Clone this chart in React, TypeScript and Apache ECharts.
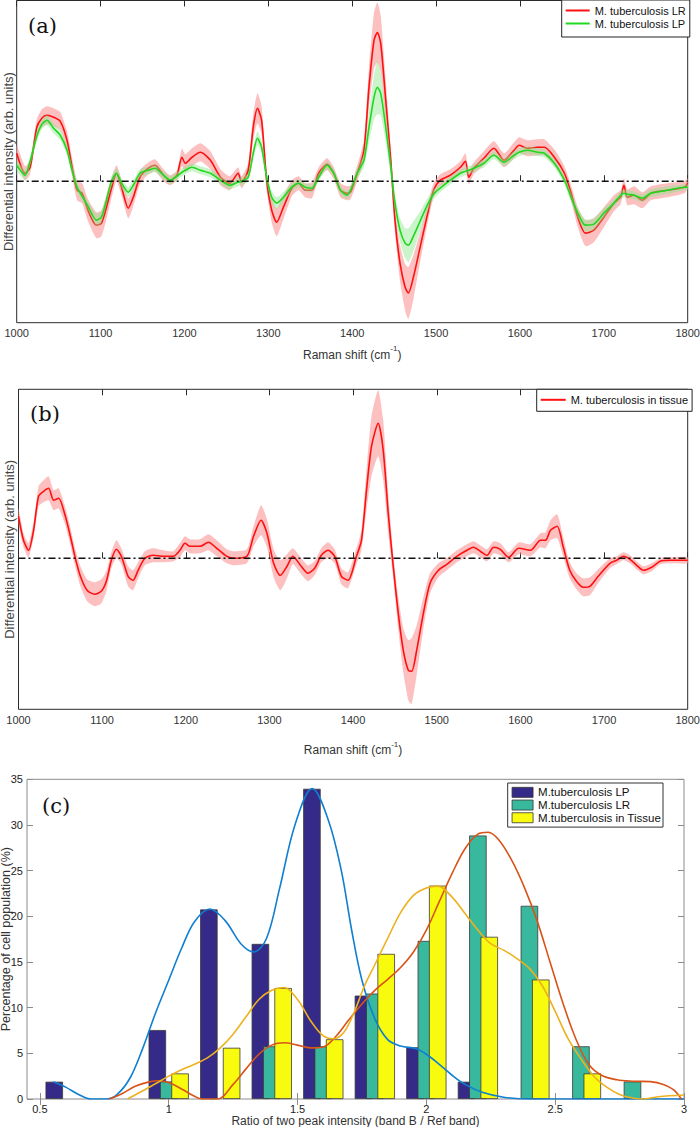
import React, { useEffect, useRef } from 'react';
import * as echarts from 'echarts';

// ---------- Panel (a): differential Raman spectra ----------
const shiftA = [1000,1010,1016,1024,1030,1036,1044,1052,1060,1066,1072,1078,1085,1095,1101,1107,1113,1119,1125,1133,1139,1147,1157,1165,1175,1183,1191,1197,1201,1209,1219,1231,1243,1254,1264,1268,1276,1282,1287,1292,1298,1304,1310,1318,1328,1336,1344,1352,1360,1370,1378,1386,1394,1398,1406,1414,1420,1426,1430,1434,1440,1446,1451,1457,1463,1467,1473,1481,1489,1497,1505,1517,1529,1535,1539,1545,1557,1569,1581,1593,1599,1609,1621,1629,1641,1653,1661,1669,1678,1688,1700,1712,1720,1724,1728,1736,1746,1756,1776,1796,1800];
const lrMean = [0.28,0.08,0.14,0.54,0.63,0.66,0.64,0.60,0.41,0.14,-0.09,-0.12,-0.29,-0.44,-0.42,-0.26,-0.07,0.08,-0.06,-0.27,-0.16,0.04,0.13,0.16,0.06,0.01,0.06,0.24,0.18,0.24,0.29,0.21,0.04,-0.02,0.08,-0.01,0.11,0.54,0.73,0.61,0.01,-0.29,-0.41,-0.26,-0.07,-0.02,-0.09,-0.09,0.08,0.17,0.08,-0.09,-0.12,-0.11,0.08,0.31,0.94,1.41,1.49,1.38,0.81,0.21,-0.39,-0.82,-1.06,-1.12,-0.96,-0.66,-0.36,-0.09,0.01,0.06,0.14,0.20,0.04,0.13,0.23,0.33,0.21,0.31,0.36,0.33,0.34,0.34,0.24,0.08,-0.12,-0.36,-0.52,-0.49,-0.36,-0.22,-0.16,-0.04,-0.16,-0.14,-0.19,-0.12,-0.09,-0.06,-0.02];
const lrSpread = [.08,.07,.07,.08,.09,.09,.09,.09,.09,.09,.1,.1,.11,.13,.13,.12,.1,.08,.08,.1,.09,.07,.06,.06,.06,.05,.05,.09,.09,.09,.09,.09,.08,.07,.06,.06,.07,.13,.15,.14,.1,.12,.14,.12,.08,.07,.07,.08,.06,.06,.06,.07,.07,.07,.08,.1,.2,.28,.3,.28,.2,.12,.12,.18,.23,.26,.22,.15,.1,.07,.06,.06,.06,.08,.07,.06,.07,.07,.07,.08,.08,.08,.08,.08,.08,.07,.08,.1,.13,.12,.1,.08,.07,.07,.08,.09,.08,.07,.07,.06,.05];
const lpMean = [0.16,0.06,0.20,0.45,0.57,0.61,0.53,0.46,0.31,0.11,-0.06,-0.15,-0.25,-0.39,-0.36,-0.19,0.0,0.08,-0.02,-0.11,-0.04,0.08,0.11,0.13,0.06,0.01,0.05,0.09,0.11,0.14,0.11,0.08,0.01,-0.04,-0.01,0.0,0.04,0.28,0.43,0.34,0.04,-0.16,-0.22,-0.16,-0.06,-0.02,-0.06,-0.07,0.04,0.16,0.08,-0.09,-0.14,-0.09,0.08,0.21,0.54,0.84,0.94,0.88,0.54,0.14,-0.22,-0.49,-0.62,-0.64,-0.55,-0.40,-0.25,-0.13,-0.07,0.01,0.08,0.10,0.11,0.13,0.18,0.26,0.19,0.26,0.29,0.31,0.29,0.28,0.18,0.01,-0.16,-0.32,-0.44,-0.43,-0.32,-0.22,-0.14,-0.12,-0.13,-0.14,-0.17,-0.12,-0.09,-0.06,-0.06];
const lpSpread = [.05,.05,.05,.05,.05,.05,.05,.05,.05,.05,.05,.05,.05,.06,.06,.05,.05,.05,.05,.05,.05,.04,.04,.04,.04,.04,.04,.04,.04,.04,.04,.04,.04,.04,.04,.04,.04,.06,.07,.06,.05,.06,.06,.05,.04,.04,.04,.04,.04,.04,.04,.04,.04,.04,.05,.07,.15,.22,.27,.22,.15,.08,.08,.12,.15,.17,.15,.1,.07,.05,.04,.04,.04,.04,.04,.04,.04,.04,.04,.04,.04,.04,.04,.04,.04,.04,.05,.05,.06,.06,.05,.04,.04,.04,.04,.04,.04,.04,.04,.03,.03];

// ---------- Panel (b): M. tuberculosis in tissue ----------
const shiftB = [1000,1006,1012,1018,1024,1030,1036,1042,1048,1056,1062,1068,1074,1082,1091,1099,1105,1111,1117,1123,1131,1137,1143,1151,1161,1173,1185,1193,1199,1205,1217,1227,1237,1249,1257,1273,1281,1290,1297,1305,1313,1321,1328,1338,1346,1354,1362,1370,1378,1386,1394,1404,1410,1416,1422,1430,1436,1442,1448,1454,1460,1466,1470,1476,1484,1492,1502,1512,1524,1534,1544,1552,1560,1568,1576,1586,1598,1612,1624,1630,1636,1644,1651,1659,1667,1675,1683,1693,1707,1715,1723,1731,1739,1747,1757,1767,1779,1800];
const tissueMean = [0.42,0.18,0.08,0.28,0.62,0.67,0.70,0.58,0.60,0.42,0.22,0.0,-0.18,-0.32,-0.36,-0.33,-0.23,-0.02,0.09,0.02,-0.18,-0.22,-0.12,0.0,0.03,0.02,0.02,0.08,0.15,0.12,0.12,0.16,0.10,0.02,0.0,0.02,0.22,0.38,0.25,-0.05,-0.17,-0.08,0.02,-0.08,-0.15,-0.10,0.03,0.08,0.02,-0.18,-0.22,0.02,0.18,0.68,1.12,1.35,1.08,0.45,-0.08,-0.55,-0.92,-1.12,-1.13,-0.92,-0.55,-0.25,-0.12,-0.06,0.02,0.07,0.11,0.07,0.03,0.11,0.09,0.01,0.10,0.08,0.18,0.18,0.28,0.32,0.12,-0.12,-0.23,-0.29,-0.28,-0.18,-0.05,-0.02,0.02,-0.01,-0.07,-0.12,-0.09,-0.03,-0.02,-0.02];
const tissueSpread = [.08,.07,.07,.08,.1,.11,.12,.1,.1,.09,.09,.09,.1,.11,.12,.12,.1,.08,.09,.08,.1,.1,.08,.07,.07,.06,.05,.07,.07,.07,.07,.08,.08,.07,.07,.07,.1,.15,.14,.14,.15,.12,.08,.08,.08,.07,.07,.08,.07,.08,.08,.08,.1,.2,.3,.33,.3,.2,.12,.16,.22,.3,.33,.25,.16,.1,.07,.06,.06,.06,.06,.06,.06,.06,.06,.05,.06,.06,.07,.08,.1,.12,.1,.08,.08,.09,.09,.07,.05,.04,.04,.04,.04,.04,.04,.03,.03,.03];

// ---------- Panel (c): histogram of band ratio ----------
const ratioBins = [0.6,0.8,1.0,1.2,1.4,1.6,1.8,2.0,2.2,2.4,2.6,2.8];
const pctLP = [1.89,0,7.55,20.75,16.98,33.96,11.32,5.66,1.89,0,0,0];
const pctLR = [0,0,1.92,0,5.77,5.77,11.54,17.31,28.85,21.15,5.77,1.92];
const pctTissue = [0,0,2.80,5.61,12.15,6.54,15.89,23.36,17.76,13.08,2.80,0];
const fitLP: [number, number][] = [[0.552,1.9],[0.6,1.3],[0.65,0.5],[0.7,0],[0.76,0],[0.8,0.5],[0.85,2.3],[0.9,5.6],[0.95,9.5],[1.0,13.0],[1.05,16.5],[1.1,19.4],[1.16,20.8],[1.22,19.5],[1.28,17.0],[1.33,16.1],[1.38,17.6],[1.43,23.0],[1.49,30.0],[1.557,34.0],[1.62,30.5],[1.67,25.0],[1.71,18.5],[1.75,13.0],[1.8,8.8],[1.85,6.5],[1.9,5.8],[1.96,5.5],[2.0,4.9],[2.05,3.8],[2.1,2.6],[2.15,1.6],[2.22,0.7],[2.3,0.2],[2.4,0],[3.0,0]];
const fitLR: [number, number][] = [[0.77,0],[0.82,0.6],[0.87,1.4],[0.92,1.85],[0.96,2.0],[1.0,1.8],[1.05,1.1],[1.1,0.3],[1.13,0],[1.19,0],[1.25,1.6],[1.3,3.3],[1.35,4.9],[1.4,5.9],[1.45,6.15],[1.5,5.9],[1.55,5.6],[1.6,5.7],[1.65,6.9],[1.7,8.7],[1.75,10.4],[1.8,11.9],[1.85,13.1],[1.9,14.4],[1.95,16.1],[2.0,18.5],[2.05,21.6],[2.1,24.7],[2.15,27.4],[2.2,29.0],[2.24,29.2],[2.28,28.4],[2.33,26.2],[2.38,23.2],[2.43,19.5],[2.48,15.0],[2.53,10.5],[2.58,6.6],[2.63,3.8],[2.68,2.6],[2.74,2.1],[2.8,1.95],[2.87,1.9],[2.92,1.6],[2.96,1.0],[2.99,0]];
const fitTissue: [number, number][] = [[0.84,0],[0.9,0.9],[0.95,1.7],[1.0,2.5],[1.05,3.2],[1.1,3.8],[1.15,4.5],[1.2,5.6],[1.25,7.1],[1.3,9.0],[1.35,10.9],[1.4,11.9],[1.447,12.2],[1.5,10.9],[1.55,8.6],[1.6,6.9],[1.64,6.6],[1.68,7.3],[1.72,9.5],[1.76,12.4],[1.8,14.7],[1.85,17.6],[1.9,20.4],[1.95,22.3],[2.0,23.1],[2.044,23.3],[2.1,22.1],[2.15,20.3],[2.2,18.5],[2.25,17.0],[2.3,16.3],[2.35,15.4],[2.4,14.3],[2.45,12.4],[2.5,9.6],[2.55,6.6],[2.6,4.4],[2.65,2.5],[2.7,1.3],[2.75,0.5],[2.8,0.1],[2.84,0],[2.9,0.25],[3.0,0.44]];
const ratioTicks = [0.5, 1, 1.5, 2, 2.5, 3];
const ramanTicks = { min: 1000, max: 1800, interval: 100 };

const FONT = 'Liberation Sans';

function band(xs: number[], mid: number[], half: number[], color: string, axis: number, z: number) {
  return {
    type: 'custom',
    xAxisIndex: axis * 2,
    yAxisIndex: axis,
    z,
    silent: true,
    clip: true,
    data: xs.map((x, i) => [x, mid[i] - half[i], mid[i] + half[i]]),
    encode: { x: 0, y: [1, 2] },
    renderItem: (params: any, api: any) => {
      if (params.dataIndex !== 0) return null;
      const up = xs.map((x, i) => api.coord([x, mid[i] + half[i]]));
      const lo = xs.map((x, i) => api.coord([x, mid[i] - half[i]])).reverse();
      return { type: 'polygon', shape: { points: up.concat(lo), smooth: 0.2 }, style: { fill: color } };
    },
  };
}

function spectrum(name: string, xs: number[], ys: number[], color: string, axis: number, z: number) {
  return {
    type: 'line', name, xAxisIndex: axis * 2, yAxisIndex: axis, z,
    data: xs.map((x, i) => [x, ys[i]]),
    showSymbol: false, smooth: 0.25, color,
    lineStyle: { color, width: 1.6 },
  };
}

function zeroLine(axis: number) {
  return {
    type: 'line', xAxisIndex: axis * 2, yAxisIndex: axis, z: 6, silent: true,
    data: [[ramanTicks.min, 0], [ramanTicks.max, 0]],
    showSymbol: false,
    lineStyle: { color: '#111', width: 1.4, type: [7, 3, 2, 3] },
  };
}

const tickStyle = (c: string) => ({ show: true, inside: true, length: 6, lineStyle: { color: c, width: 1 } });
const labelStyle = { fontSize: 11, color: '#333', fontFamily: FONT };

function ramanX(grid: number, nameGap: number) {
  return [
    {
      type: 'value', gridIndex: grid, ...ramanTicks,
      axisLine: { show: false }, splitLine: { show: false },
      axisTick: tickStyle('#2b2b2b'),
      axisLabel: { ...labelStyle, margin: 5, formatter: (v: number) => String(v) },
      name: '{n|Raman shift (cm}{s|-1}{n|)}',
      nameLocation: 'middle', nameGap,
      nameTextStyle: {
        rich: {
          n: { fontSize: 12, color: '#333', fontFamily: FONT, lineHeight: 16, verticalAlign: 'bottom' },
          s: { fontSize: 8, color: '#333', fontFamily: FONT, lineHeight: 16, verticalAlign: 'top' },
        },
      },
    },
    {
      type: 'value', gridIndex: grid, position: 'top', ...ramanTicks,
      axisLine: { show: false }, splitLine: { show: false },
      axisTick: tickStyle('#2b2b2b'), axisLabel: { show: false },
    },
  ];
}

const gridBase = { show: true, borderWidth: 1, backgroundColor: '#fff', containLabel: false, outerBoundsMode: 'none' };

const option: any = {
  animation: false,
  backgroundColor: '#ffffff',
  textStyle: { fontFamily: FONT },
  grid: [
    { ...gridBase, left: 16.7, top: 0.5, width: 671, height: 322.2, borderColor: '#2b2b2b' },
    { ...gridBase, left: 18.5, top: 389.3, width: 669.2, height: 320, borderColor: '#2b2b2b' },
    { ...gridBase, left: 27, top: 779.3, width: 657, height: 319.7, borderColor: '#8c8c8c' },
  ],
  xAxis: [
    ...ramanX(0, 22),
    ...ramanX(1, 31),
    {
      type: 'value', gridIndex: 2, min: 0.45, max: 3,
      axisLine: { show: false }, splitLine: { show: false },
      axisTick: { ...tickStyle('#8c8c8c'), customValues: ratioTicks },
      axisLabel: { ...labelStyle, color: '#222', margin: 4, customValues: ratioTicks },
      name: 'Ratio of two peak intensity (band B / Ref band)',
      nameLocation: 'middle', nameGap: 15,
      nameTextStyle: { fontSize: 12, color: '#333', fontFamily: FONT },
    },
    {
      type: 'value', gridIndex: 2, position: 'top', min: 0.45, max: 3,
      axisLine: { show: false }, splitLine: { show: false },
      axisTick: { ...tickStyle('#8c8c8c'), customValues: ratioTicks },
      axisLabel: { show: false },
    },
  ],
  yAxis: [
    {
      type: 'value', gridIndex: 0, min: -1.417, max: 1.81,
      axisLine: { show: false }, axisTick: { show: false }, axisLabel: { show: false }, splitLine: { show: false },
      name: 'Differential intensity (arb. units)', nameLocation: 'middle', nameRotate: 90, nameGap: 2,
      nameTextStyle: { fontSize: 13, color: '#444', fontFamily: FONT },
    },
    {
      type: 'value', gridIndex: 1, min: -1.51, max: 1.69,
      axisLine: { show: false }, axisTick: { show: false }, axisLabel: { show: false }, splitLine: { show: false },
      name: 'Differential intensity (arb. units)', nameLocation: 'middle', nameRotate: 90, nameGap: 3,
      nameTextStyle: { fontSize: 13, color: '#444', fontFamily: FONT },
    },
    {
      type: 'value', gridIndex: 2, min: 0, max: 35, interval: 5,
      axisLine: { show: false }, splitLine: { show: false },
      axisTick: tickStyle('#8c8c8c'),
      axisLabel: { ...labelStyle, color: '#222', margin: 4 },
      name: 'Percentage of cell population (%)', nameLocation: 'middle', nameRotate: 90, nameGap: 14.5,
      nameMoveOverlap: false,
      nameTextStyle: { fontSize: 12.5, color: '#333', fontFamily: FONT },
    },
    {
      type: 'value', gridIndex: 2, position: 'right', min: 0, max: 35, interval: 5,
      axisLine: { show: false }, splitLine: { show: false },
      axisTick: tickStyle('#8c8c8c'), axisLabel: { show: false },
    },
  ],
  legend: [
    {
      data: ['M. tuberculosis LR', 'M. tuberculosis LP'],
      left: 561.7, top: 0, orient: 'vertical', icon: 'rect', itemWidth: 24, itemHeight: 2, itemGap: 0,
      padding: [4, 4, 7, 4], borderColor: '#222', borderWidth: 1, backgroundColor: '#fff', selectedMode: false,
      textStyle: { fontSize: 11, color: '#111', fontFamily: FONT, lineHeight: 13 },
    },
    {
      data: ['M. tuberculosis in tissue'],
      left: 536.7, top: 389.3, orient: 'vertical', icon: 'rect', itemWidth: 25, itemHeight: 2,
      padding: [4, 4, 5, 4], borderColor: '#222', borderWidth: 1, backgroundColor: '#fff', selectedMode: false,
      textStyle: { fontSize: 11, color: '#111', fontFamily: FONT, lineHeight: 13 },
    },
    {
      data: ['M.tuberculosis LP', 'M.tuberculosis LR', 'M.tuberculosis in Tissue'],
      right: 37, top: 783, orient: 'vertical', align: 'left', icon: 'rect', itemWidth: 21, itemHeight: 10, itemGap: 0,
      padding: [3, 2, 3, 4], borderColor: '#333', borderWidth: 1, backgroundColor: '#fff', selectedMode: false,
      itemStyle: { borderColor: '#333', borderWidth: 0.8 },
      textStyle: { fontSize: 11.5, color: '#111', fontFamily: FONT, lineHeight: 12.7 },
    },
  ],
  graphic: [
    { type: 'text', left: 28, top: 15, z: 100, style: { text: '(a)', fontSize: 21, fontFamily: 'DejaVu Serif', fill: '#111' } },
    { type: 'text', left: 30, top: 403, z: 100, style: { text: '(b)', fontSize: 21, fontFamily: 'DejaVu Serif', fill: '#111' } },
    { type: 'text', left: 42, top: 795, z: 100, style: { text: '(c)', fontSize: 21, fontFamily: 'DejaVu Serif', fill: '#111' } },
  ],
  series: [
    band(shiftA, lrMean, lrSpread, 'rgba(250,150,150,0.6)', 0, 1),
    spectrum('M. tuberculosis LR', shiftA, lrMean, '#ff1010', 0, 2),
    band(shiftA, lpMean, lpSpread, 'rgba(140,230,140,0.45)', 0, 3),
    spectrum('M. tuberculosis LP', shiftA, lpMean, '#1fd81f', 0, 4),
    zeroLine(0),
    band(shiftB, tissueMean, tissueSpread, 'rgba(250,150,150,0.6)', 1, 1),
    spectrum('M. tuberculosis in tissue', shiftB, tissueMean, '#ff1010', 1, 2),
    zeroLine(1),
    ...[
      { name: 'M.tuberculosis LP', vals: pctLP, color: '#352a87' },
      { name: 'M.tuberculosis LR', vals: pctLR, color: '#38b99e' },
      { name: 'M.tuberculosis in Tissue', vals: pctTissue, color: '#f9fb0e' },
    ].map((s, k) => ({
      type: 'bar', name: s.name, xAxisIndex: 4, yAxisIndex: 2, z: 2 + k * 0.1,
      barWidth: 17.5, barGap: '-35%',
      itemStyle: { color: s.color, borderColor: '#3a3a3a', borderWidth: 0.8 },
      data: ratioBins.map((b, i) => [b, s.vals[i]]).filter((d) => d[1] > 0),
    })),
    ...[
      { pts: fitLP, color: '#0f7fd0' },
      { pts: fitLR, color: '#d95319' },
      { pts: fitTissue, color: '#edb120' },
    ].map((f) => ({
      type: 'line', xAxisIndex: 4, yAxisIndex: 2, z: 5, silent: true,
      data: f.pts, showSymbol: false, smooth: 0.35,
      lineStyle: { color: f.color, width: 1.6 }, color: f.color,
    })),
  ],
};

export default function App() {
  const ref = useRef<HTMLDivElement>(null);
  useEffect(() => {
    const chart = echarts.init(ref.current!, null, { renderer: 'svg' });
    chart.setOption(option);
    return () => chart.dispose();
  }, []);
  return (
    <div
      ref={ref}
      style={{ position: 'absolute', left: 0, top: 0, width: 700, height: 1127, background: '#fff' }}
    />
  );
}
